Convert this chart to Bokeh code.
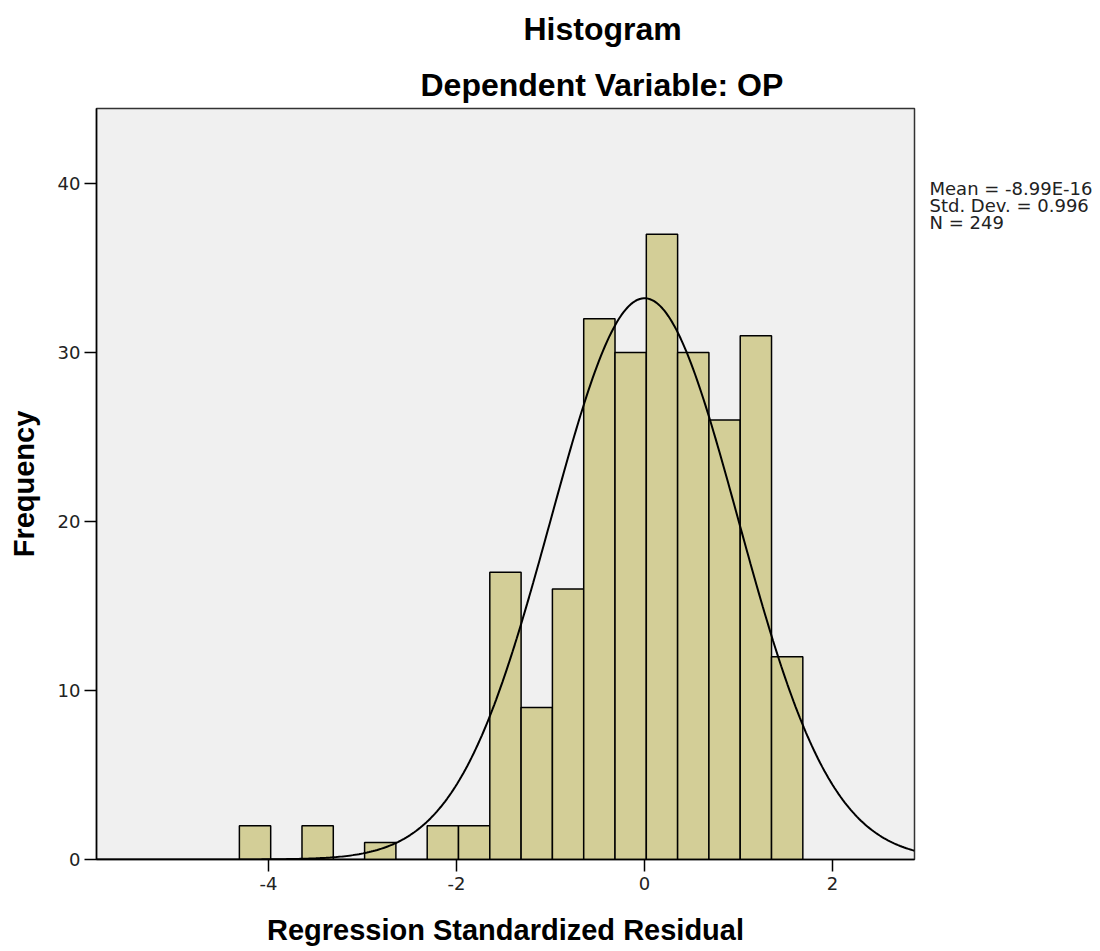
import numpy as np
from bokeh.plotting import figure
from bokeh.models import Range1d, FixedTicker, Title, LinearAxis
from bokeh.embed import file_html
from bokeh.resources import INLINE

# ---- data ----
bin_start = -4.31
bin_width = 0.333
counts = [2, 0, 2, 0, 1, 0, 2, 2, 17, 9, 16, 32, 30, 37, 30, 26, 31, 12]
stat_mean = -8.99e-16
stat_sd = 0.996
stat_n = 249
stats_lines = ["Mean = -8.99E-16", "Std. Dev. = 0.996", "N = 249"]
x_ticks = [-4, -2, 0, 2]
y_ticks = [0, 10, 20, 30, 40]
title_main = "Histogram"
title_sub = "Dependent Variable: OP"
x_label = "Regression Standardized Residual"
y_label = "Frequency"

edges = bin_start + bin_width * np.arange(len(counts) + 1)
lefts = edges[:-1]
rights = edges[1:]

x_min, x_max = -5.83, 2.872
y_min, y_max = 0, 44.44

p = figure(width=1100, height=951, x_range=Range1d(x_min, x_max),
           y_range=Range1d(y_min, y_max), output_backend="svg",
           toolbar_location=None, title=None,
           min_border_left=96, min_border_right=186,
           min_border_top=108, min_border_bottom=92)

p.background_fill_color = "#F0F0F0"
p.border_fill_color = "white"
p.outline_line_color = "#333333"
p.outline_line_width = 1.5
p.xgrid.visible = False
p.ygrid.visible = False

p.quad(left=lefts, right=rights, bottom=0, top=counts,
       fill_color="#D3CE97", line_color="black", line_width=1.5)

xs = np.linspace(x_min, x_max, 400)
ys = stat_n * bin_width * np.exp(-0.5 * ((xs - stat_mean) / stat_sd) ** 2) / (stat_sd * np.sqrt(2 * np.pi))
p.line(xs, ys, line_color="black", line_width=2)

for ax in (p.xaxis[0], p.yaxis[0]):
    ax.major_tick_out = 12
    ax.major_tick_in = 0
    ax.minor_tick_out = 0
    ax.minor_tick_in = 0
    ax.axis_line_color = "black"
    ax.axis_line_width = 1.5
    ax.major_tick_line_color = "black"
    ax.major_tick_line_width = 1.5
    ax.major_label_text_font = "DejaVu Sans"
    ax.major_label_text_font_size = "18px"
    ax.major_label_text_color = "#222222"
    ax.axis_label_text_font = "Liberation Sans"
    ax.axis_label_text_font_style = "bold"
    ax.axis_label_text_font_size = "29px"
    ax.axis_label_text_color = "black"

p.xaxis.ticker = FixedTicker(ticks=x_ticks)
p.yaxis.ticker = FixedTicker(ticks=y_ticks)
p.xaxis.major_label_overrides = {t: str(t) for t in x_ticks}
p.yaxis.major_label_overrides = {t: str(t) for t in y_ticks}
p.xaxis.axis_label = x_label
p.yaxis.axis_label = y_label
p.xaxis.major_label_standoff = 5
p.yaxis.major_label_standoff = 4
p.xaxis.axis_label_standoff = 21
p.yaxis.axis_label_standoff = 15

# statistics box, printed to the right of the frame
px_per_y = 16.9
stats_y = [round(y_max - (80 + 17 * i) / px_per_y, 3) for i in range(len(stats_lines))]
stats_axis = LinearAxis(ticker=FixedTicker(ticks=stats_y),
                        major_label_overrides={y: s for y, s in zip(stats_y, stats_lines)},
                        axis_line_color=None, major_tick_line_color=None,
                        minor_tick_line_color=None, major_tick_out=0, major_tick_in=0,
                        minor_tick_out=0, minor_tick_in=0,
                        major_label_standoff=15,
                        major_label_text_font="DejaVu Sans",
                        major_label_text_font_size="18px",
                        major_label_text_color="#222222")
p.add_layout(stats_axis, "right")

sub = Title(text=title_sub, align="left", offset=324, standoff=12,
            text_font="Liberation Sans", text_font_style="bold",
            text_font_size="32px", text_color="black")
main = Title(text=title_main, align="left", offset=427, standoff=20,
             vertical_align="top",
             text_font="Liberation Sans", text_font_style="bold",
             text_font_size="32px", text_color="black")
p.add_layout(sub, "above")
p.add_layout(main, "above")

open("out.html", "w").write(file_html(p, INLINE))
